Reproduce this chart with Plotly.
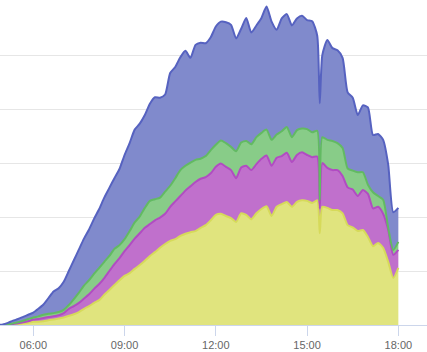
import pandas as pd
import plotly.graph_objects as go

times = ["04:50","05:00","05:10","05:20","05:30","05:40","05:50","06:00","06:10","06:20",
         "06:30","06:40","06:50","07:00","07:10","07:20","07:30","07:40","07:50","08:00",
         "08:10","08:20","08:30","08:40","08:50","09:00","09:10","09:20","09:30","09:40",
         "09:50","10:00","10:10","10:20","10:30","10:40","10:50","11:00","11:10","11:20",
         "11:30","11:40","11:50","12:00","12:10","12:20","12:30","12:40","12:50","13:00",
         "13:10","13:20","13:30","13:40","13:50","14:00","14:10","14:20","14:30","14:40",
         "14:50","15:00","15:10","15:20","15:25","15:30","15:40","15:50","16:00","16:10",
         "16:20","16:30","16:40","16:50","17:00","17:10","17:20","17:30","17:40","17:50",
         "18:00"]

# kW per series (stacked bottom -> top)
yellow = [0,0,0,0.01,0.02,0.03,0.04,0.06,0.06,0.07,
          0.09,0.10,0.12,0.14,0.17,0.20,0.24,0.30,0.35,0.41,
          0.46,0.56,0.65,0.74,0.83,0.91,0.96,1.04,1.11,1.19,
          1.28,1.35,1.43,1.50,1.56,1.59,1.65,1.69,1.72,1.74,
          1.80,1.85,1.94,2.04,2.06,2.02,1.98,1.91,2.07,2.04,
          1.96,2.07,2.15,2.20,2.02,2.19,2.24,2.28,2.19,2.28,
          2.31,2.30,2.26,2.31,1.70,2.19,2.17,2.13,2.13,2.07,
          1.85,1.81,1.74,1.76,1.63,1.46,1.52,1.43,1.17,0.87,
          1.06]
magenta = [0,0,0.01,0.01,0.01,0.02,0.03,0.04,0.05,0.06,
           0.06,0.06,0.06,0.08,0.13,0.15,0.17,0.19,0.22,0.26,
           0.30,0.31,0.35,0.39,0.41,0.46,0.52,0.56,0.59,0.61,
           0.59,0.59,0.56,0.56,0.63,0.70,0.74,0.80,0.85,0.91,
           0.91,0.89,0.87,0.89,0.93,0.91,0.89,0.81,0.85,0.91,
           0.91,0.91,0.93,0.94,0.93,0.91,0.89,0.91,0.83,0.87,
           0.89,0.85,0.85,0.81,0.46,0.81,0.74,0.74,0.74,0.69,
           0.70,0.70,0.65,0.74,0.80,0.70,0.67,0.63,0.59,0.43,
           0.33]
green = [0,0,0,0.01,0.02,0.03,0.04,0.04,0.05,0.06,
         0.06,0.06,0.06,0.06,0.07,0.13,0.19,0.24,0.26,0.28,
         0.30,0.30,0.28,0.28,0.24,0.22,0.26,0.30,0.31,0.37,
         0.43,0.39,0.37,0.41,0.39,0.43,0.48,0.46,0.44,0.41,
         0.37,0.39,0.43,0.41,0.43,0.44,0.43,0.50,0.46,0.46,
         0.48,0.50,0.48,0.48,0.48,0.43,0.46,0.48,0.46,0.46,
         0.44,0.48,0.46,0.48,0.15,0.48,0.52,0.54,0.50,0.52,
         0.35,0.35,0.44,0.33,0.17,0.30,0.20,0.26,0.04,0.09,
         0.15]
blue = [0,0.01,0.03,0.05,0.06,0.07,0.08,0.09,0.14,0.19,
        0.29,0.40,0.44,0.52,0.63,0.72,0.80,0.87,0.94,1.02,
        1.09,1.19,1.26,1.31,1.41,1.56,1.63,1.72,1.72,1.72,
        1.80,1.89,1.85,1.80,2.09,2.06,2.09,2.13,1.94,2.13,
        2.15,2.09,2.09,2.19,2.20,2.24,2.26,2.09,2.11,2.28,
        2.07,2.07,2.13,2.28,2.19,1.94,2.09,2.09,2.07,2.07,
        2.09,2.02,2.06,1.76,1.80,1.52,1.85,1.72,1.72,1.67,
        1.41,1.35,1.06,1.24,1.43,1.06,1.15,1.11,1.17,0.70,
        0.63]

day = "2024-06-15 "
x = pd.to_datetime([day + t for t in times])

series = [
    ("Serie 4", yellow, "#e0e47e", "#d6da5a"),
    ("Serie 3", magenta, "#c070cc", "#b14cc2"),
    ("Serie 2", green, "#88cc88", "#62ba62"),
    ("Serie 1", blue, "#808acc", "#5662c0"),
]

fig = go.Figure()
for name, vals, fillc, linec in series:
    fig.add_trace(go.Scatter(
        x=x, y=vals, name=name, mode="lines", stackgroup="one",
        line=dict(color=linec, width=2, shape="spline", smoothing=0.6),
        fillcolor=fillc, hoverinfo="skip",
    ))

fig.update_layout(
    width=427, height=352,
    margin=dict(l=0, r=0, t=1, b=27),
    paper_bgcolor="white", plot_bgcolor="white",
    showlegend=False,
    xaxis=dict(
        type="date",
        range=[day + "04:54:20", day + "18:56:30"],
        tick0=day + "00:00", dtick=3 * 3600 * 1000,
        tickformat="%H:%M",
        showgrid=False, showline=True, linecolor="#ccd6eb", linewidth=1,
        ticks="outside", ticklen=10, tickcolor="#ccd6eb", tickwidth=1,
        tickfont=dict(family="Liberation Sans, Arial, sans-serif", size=11, color="#666666"),
        zeroline=False,
    ),
    yaxis=dict(
        range=[0, 6.003], dtick=1, tick0=0,
        showticklabels=False, showgrid=True, gridcolor="#e6e6e6", gridwidth=1,
        zeroline=False, showline=False, ticks="",
    ),
)

fig.write_html("out.html")
